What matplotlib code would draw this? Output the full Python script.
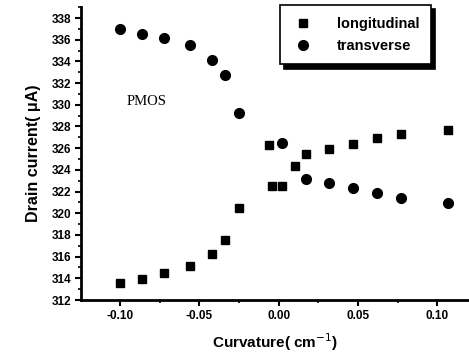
import matplotlib
matplotlib.use("Agg")
import matplotlib.pyplot as plt
from matplotlib.ticker import MultipleLocator

long_x = [-0.100, -0.086, -0.072, -0.056, -0.042, -0.034, -0.025, -0.006, -0.004, 0.002, 0.010, 0.017, 0.032, 0.047, 0.062, 0.077, 0.107]
long_y = [313.6, 313.9, 314.5, 315.1, 316.2, 317.5, 320.5, 326.3, 322.5, 322.5, 324.4, 325.5, 325.9, 326.4, 326.9, 327.3, 327.7]
trans_x = [-0.100, -0.086, -0.072, -0.056, -0.042, -0.034, -0.025, 0.002, 0.017, 0.032, 0.047, 0.062, 0.077, 0.107]
trans_y = [337.0, 336.5, 336.2, 335.5, 334.1, 332.7, 329.2, 326.5, 323.2, 322.8, 322.3, 321.9, 321.4, 320.9]

xticks = [-0.10, -0.05, 0.00, 0.05, 0.10]
xticklabels = ["-0.10", "-0.05", "0.00", "0.05", "0.10"]
yticks = list(range(312, 339, 2))

fig = plt.figure(figsize=(4.69, 3.58), dpi=100)
ax = fig.add_axes([0.1727, 0.162, 0.8273, 0.818])

ax.plot(long_x, long_y, linestyle="none", marker="s", markersize=6.0, color="black", label="longitudinal")
ax.plot(trans_x, trans_y, linestyle="none", marker="o", markersize=7.0, color="black", label="transverse")

ax.set_xlim(-0.1246, 0.12)
ax.set_ylim(312, 339)
ax.set_xticks(xticks)
ax.set_xticklabels(xticklabels)
ax.set_yticks(yticks)
ax.xaxis.set_minor_locator(MultipleLocator(0.025))
ax.yaxis.set_minor_locator(MultipleLocator(1))

for s in ["top", "right"]:
    ax.spines[s].set_visible(False)
for s in ["left", "bottom"]:
    ax.spines[s].set_linewidth(2)

ax.tick_params(axis="both", which="major", direction="out", length=4, width=1.5, labelsize=8.5, pad=3)
ax.tick_params(axis="both", which="minor", direction="out", length=2.5, width=1.2)
for lab in ax.get_xticklabels() + ax.get_yticklabels():
    lab.set_fontweight("bold")
    lab.set_family("Liberation Sans")

ax.set_xlabel("Curvature( cm$^{-1}$)", fontsize=11, fontweight="bold", family="Liberation Sans", labelpad=7)
ax.set_ylabel("Drain current( \u03bcA)", fontsize=11.5, fontweight="bold", family="Liberation Sans", labelpad=8)

ax.text(-0.096, 330.3, "PMOS", fontsize=10.5, family="Liberation Serif", va="center", ha="left")

leg = fig.legend(loc="upper left", bbox_to_anchor=(280 / 469, 1 - 5 / 358), frameon=True, fancybox=False,
                 shadow={"color": "black", "alpha": 1.0, "ox": 3, "oy": -3}, edgecolor="black", borderpad=0.8,
                 handletextpad=1.6, labelspacing=0.55, borderaxespad=0, handlelength=1.5,
                 prop={"family": "Liberation Sans", "weight": "bold", "size": 10.5})
leg.get_frame().set_linewidth(1.2)

fig.savefig("out.png", dpi=100)
